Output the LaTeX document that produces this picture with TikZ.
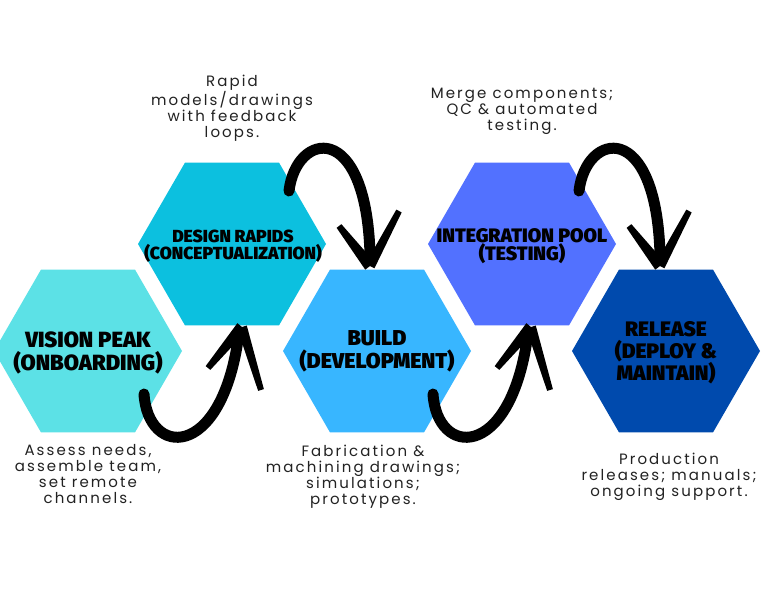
\documentclass[tikz,border=0pt]{standalone}
\usepackage{fontspec}
\usepackage{tikz}
\usetikzlibrary{calc,positioning,shapes.geometric}
\newfontfamily\hexfont{Fira Sans Black}
\newfontfamily\notefont{Poppins}[LetterSpace=14]
\definecolor{peakcyan}{HTML}{5CE1E6}
\definecolor{rapidcyan}{HTML}{0CC0DF}
\definecolor{buildblue}{HTML}{38B6FF}
\definecolor{poolblue}{HTML}{5271FF}
\definecolor{releaseblue}{HTML}{004AAD}
\definecolor{notegray}{HTML}{222222}
% tapered arm of a brush arrow head: apex, end, half width at apex
\newcommand\brusharm[3]{\fill[barb] ($#1!#3!90:#2$) -- ($#2!3pt!-90:#1$) -- ($#2!3pt!90:#1$) -- ($#1!#3!-90:#2$) -- cycle;}
\tikzset{
  hexcell/.style={regular polygon,regular polygon sides=6,minimum size=188pt,inner sep=0pt,draw=none},
  hextitle/.style={align=center,inner sep=0pt,text=black},
  note/.style={align=center,inner sep=0pt,text=notegray,font=\notefont\fontsize{15}{16}\selectfont},
  brush/.style={draw=black,line width=11pt,line cap=round},
  barb/.style={fill=black},
  hookup/.pic={
    \draw[brush] (56,43) .. controls (60,106) and (132,110) .. (150,-11);
    \brusharm{(154,-24)}{(120,17)}{6pt}
    \brusharm{(154,-24)}{(173,39)}{5pt}
  },
  archdown/.pic={
    \draw[brush] (57,-53) .. controls (64,-112) and (134,-126) .. (138,10);
    \brusharm{(138,22)}{(107,-18)}{6pt}
    \brusharm{(138,22)}{(167,-33)}{5pt}
  }
}
\begin{document}
\begin{tikzpicture}[x=1pt,y=-1pt]
  \useasboundingbox[fill=white] (0,0) rectangle (768,596);
  % hexagon cells
  \node[hexcell,fill=peakcyan] (vision) at (88,351) {};
  \node[hexcell,fill=rapidcyan] (design) at (232,244) {};
  \node[hexcell,fill=buildblue] (build) at (377,351) {};
  \node[hexcell,fill=poolblue] (pool) at (522,244) {};
  \node[hexcell,fill=releaseblue] (release) at (666,351) {};
  % cell titles
  \node[hextitle,font=\hexfont\fontsize{22}{23}\selectfont] (visiontitle) at (88,353) {VISION PEAK\\(ONBOARDING)};
  \node[hextitle,font=\hexfont\fontsize{17.5}{16.5}\selectfont] (designtitle) at (233,246) {DESIGN RAPIDS\\(CONCEPTUALIZATION)};
  \node[hextitle,font=\hexfont\fontsize{21.5}{23}\selectfont] (buildtitle) at (377,351) {BUILD\\(DEVELOPMENT)};
  \node[hextitle,font=\hexfont\fontsize{19.5}{18}\selectfont] (pooltitle) at (522,246) {INTEGRATION POOL\\(TESTING)};
  \node[hextitle,font=\hexfont\fontsize{21}{21.5}\selectfont] (releasetitle) at (666,353) {RELEASE\\(DEPLOY \&\\MAINTAIN)};
  % notes
  \node[note,above=21pt of design] (designnote) {Rapid\\models/drawings\\with feedback\\loops.};
  \node[note,above=28pt of pool] (poolnote) {Merge components;\\QC \& automated\\testing.};
  \node[note,below=12pt of vision] (visionnote) {Assess needs,\\assemble team,\\set remote\\channels.};
  \node[note,below=12pt of build,xshift=-14pt] (buildnote) {Fabrication \&\\machining drawings;\\simulations;\\prototypes.};
  \node[note,below=20pt of release,xshift=3pt] (releasenote) {Production\\releases; manuals;\\ongoing support.};
  % brush arrows
  \pic at (vision.center) {hookup};
  \pic at (build.center) {hookup};
  \pic at (design.center) {archdown};
  \pic at (pool.center) {archdown};
\end{tikzpicture}
\end{document}
